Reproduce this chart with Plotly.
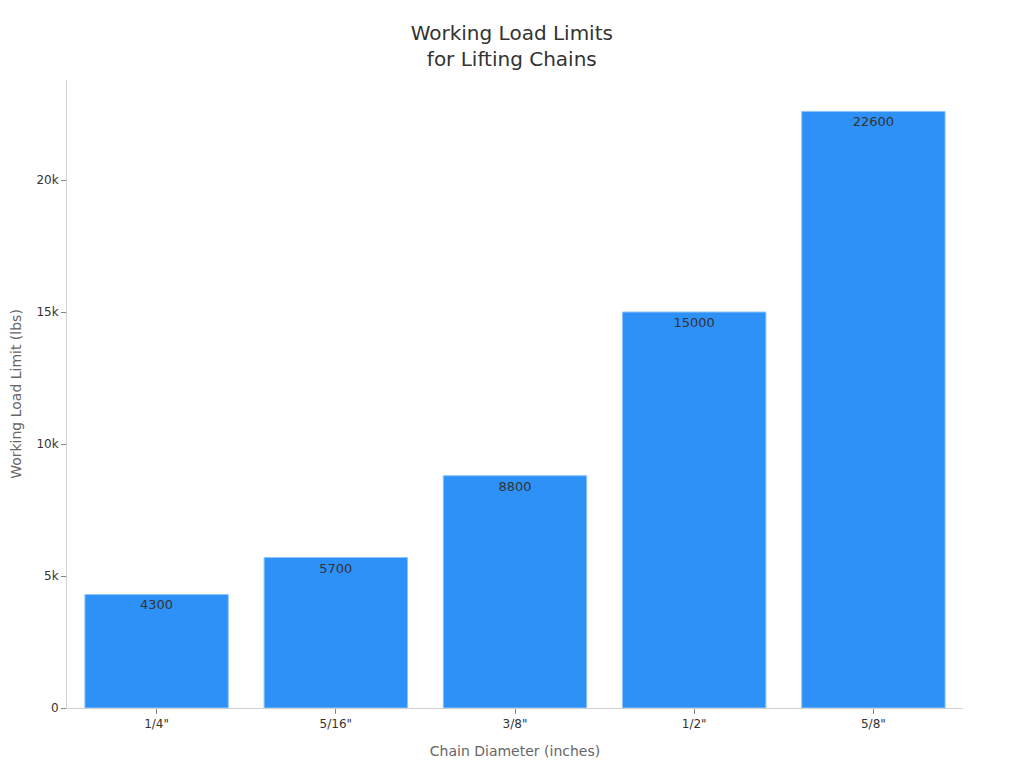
import plotly.graph_objects as go

# chain sizes and their working load limits (lbs)
diameters = ['1/4"', '5/16"', '3/8"', '1/2"', '5/8"']
load_limits = [4300, 5700, 8800, 15000, 22600]

fig = go.Figure(go.Bar(x=diameters, y=load_limits,
                       text=load_limits, textposition="inside",
                       insidetextanchor="end",
                       textfont=dict(color="#333333", size=13),
                       marker=dict(color="#2e91f8", line=dict(color="#8cc4fb", width=1))))

fig.update_layout(
    title=dict(text="Working Load Limits<br>for Lifting Chains", x=0.492, xanchor="center",
               y=0.958, yanchor="middle", font=dict(size=20, color="#333333")),
    font=dict(family="DejaVu Sans", color="#333333", size=12),
    width=1024, height=768,
    margin=dict(l=59, r=69, t=72, b=68),
    plot_bgcolor="white", paper_bgcolor="white",
    bargap=0.2,
    showlegend=False,
)
fig.update_xaxes(title=dict(text="Chain Diameter (inches)", font=dict(size=14, color="#666666")),
                 showline=True, linecolor="#d0d0d0", ticks="outside", tickcolor="#888888",
                 ticklen=5, showgrid=False, automargin=False)
fig.update_yaxes(title=dict(text="Working Load Limit (lbs)", font=dict(size=14, color="#666666")),
                 range=[0, 23790], showline=True, linecolor="#d0d0d0", ticks="outside",
                 tickcolor="#888888", ticklen=5, showgrid=False, zeroline=False, automargin=False,
                 tickvals=[0, 5000, 10000, 15000, 20000], ticktext=["0", "5k", "10k", "15k", "20k"])

fig.write_html("out.html")
